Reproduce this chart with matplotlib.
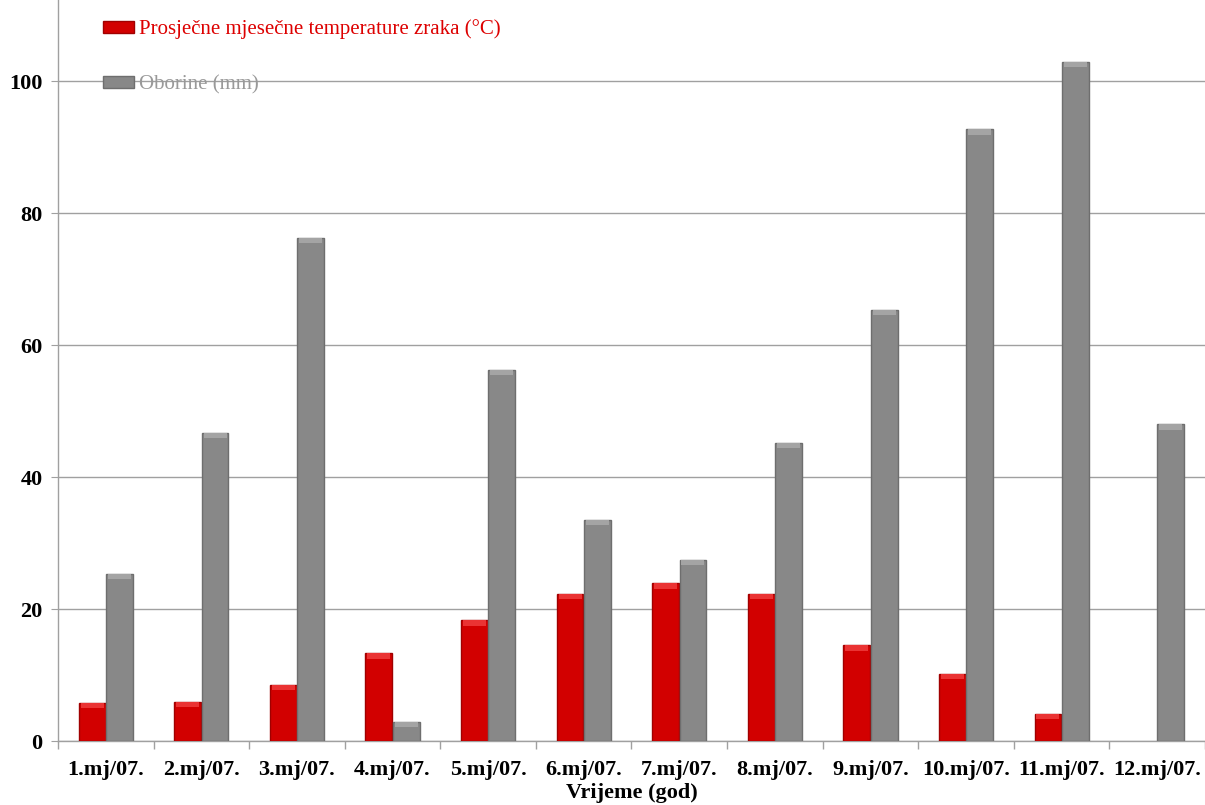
import matplotlib
matplotlib.use("Agg")
import matplotlib.pyplot as plt
import numpy as np
from matplotlib.patches import Patch

categories = ["1.mj/07.", "2.mj/07.", "3.mj/07.", "4.mj/07.", "5.mj/07.", "6.mj/07.",
              "7.mj/07.", "8.mj/07.", "9.mj/07.", "10.mj/07.", "11.mj/07.", "12.mj/07."]
temperature = [5.8, 5.9, 8.5, 13.3, 18.3, 22.3, 23.9, 22.3, 14.5, 10.2, 4.1, np.nan]
precipitation = [25.3, 46.7, 76.2, 2.9, 56.2, 33.5, 27.4, 45.2, 65.3, 92.7, 102.9, 48.0]
yticks = [0, 20, 40, 60, 80, 100]
temp_label = "Prosječne mjesečne temperature zraka (°C)"
prec_label = "Oborine (mm)"
xlabel = "Vrijeme (god)"

serif = ["Liberation Serif", "DejaVu Serif"]
red = "#d20000"
gray = "#888888"

fig = plt.figure(figsize=(12.05, 8.05), dpi=100)
ax = fig.add_axes([58 / 1205, 1 - 741 / 805, 1 - 58 / 1205, 741 / 805])

x = np.arange(len(categories))
w = 0.28
off = 0.143
temp_arr = np.array(temperature, dtype=float)
prec_arr = np.array(precipitation, dtype=float)
ax.bar(x - off, temp_arr, width=w, color=red, edgecolor="#a00000", linewidth=1.0, zorder=3)
ax.bar(x + off, prec_arr, width=w, color=gray, edgecolor="#6e6e6e", linewidth=1.0, zorder=3)
# bevel highlight at bar tops
bev = 0.8
ax.bar(x - off, bev, bottom=temp_arr - bev, width=w * 0.86, color="#ea3333",
       linewidth=0, zorder=4)
ax.bar(x + off, bev, bottom=prec_arr - bev, width=w * 0.86, color="#a4a4a4",
       linewidth=0, zorder=4)

ax.set_xlim(-0.5, len(categories) - 0.5)
ax.set_ylim(0, 112.3)
ax.set_yticks(yticks)
ax.set_yticklabels([str(v) for v in yticks], fontfamily=serif, fontweight="bold", fontsize=16)
ax.yaxis.grid(True, color="#a0a0a0", linewidth=1.0, zorder=0)
ax.tick_params(axis="y", length=5, color="#a0a0a0", pad=6)

ax.set_xticks(x)
ax.set_xticklabels(categories, fontfamily=serif, fontweight="bold", fontsize=16)
ax.set_xticks(np.arange(-0.5, len(categories), 1.0), minor=True)
ax.tick_params(axis="x", which="major", length=0, pad=14)
ax.tick_params(axis="x", which="minor", length=6, color="#a0a0a0", width=1)
ax.set_xlabel(xlabel, fontfamily=serif, fontweight="bold", fontsize=16, labelpad=2)

for s in ["top", "right"]:
    ax.spines[s].set_visible(False)
ax.spines["left"].set_color("#a0a0a0")
ax.spines["bottom"].set_color("#a0a0a0")
ax.spines["left"].set_linewidth(1.0)
ax.spines["bottom"].set_linewidth(1.0)

handles = [Patch(facecolor=red, edgecolor="#a00000"), Patch(facecolor=gray, edgecolor="#6e6e6e")]
leg = ax.legend(handles, [temp_label, prec_label], loc="upper left",
                bbox_to_anchor=(35 / 1147, 1 - 9 / 741), frameon=False, borderpad=0,
                prop={"family": serif, "size": 15}, handlelength=1.45, handleheight=0.5,
                handletextpad=0.25, labelspacing=1.7)
leg.get_texts()[0].set_color("#dd0000")
leg.get_texts()[1].set_color("#999999")

fig.savefig("out.png", dpi=100)
